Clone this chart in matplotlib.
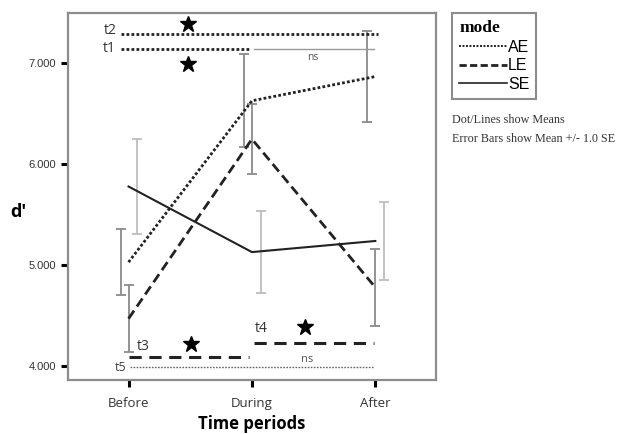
import matplotlib
matplotlib.use("Agg")
import matplotlib.pyplot as plt
from matplotlib.lines import Line2D

periods = ['Before', 'During', 'After']
ae_mean = [5.03, 6.63, 6.87]
le_mean = [4.47, 6.25, 4.78]
se_mean = [5.78, 5.13, 5.24]
ae_err = [0.33, 0.46, 0.45]
le_err = [0.33, 0.35, 0.38]
se_err = [0.47, 0.41, 0.39]
yticks = [4.0, 5.0, 6.0, 7.0]
ytick_labels = ['4.000', '5.000', '6.000', '7.000']

fig = plt.figure(figsize=(6.19, 4.34), dpi=100)
ax = fig.add_axes([0.110, 0.124, 0.594, 0.846])
x = [0, 1, 2]

AE_LS = (0, (1, 0.8))
LE_LS = (0, (3.5, 1.8))

ax.plot(x, ae_mean, color='#222222', lw=2.0, linestyle=AE_LS, zorder=3)
ax.plot(x, le_mean, color='#222222', lw=2.0, linestyle=LE_LS, zorder=3)
ax.plot(x, se_mean, color='#222222', lw=1.5, linestyle='-', zorder=3)

offs = [-0.065, 0.0, 0.07]
for m, e, off, col in [(ae_mean, ae_err, offs[0], '#8a8a8a'),
                       (le_mean, le_err, offs[1], '#8a8a8a'),
                       (se_mean, se_err, offs[2], '#bdbdbd')]:
    ax.errorbar([xi + off for xi in x], m, yerr=e, fmt='none', ecolor=col,
                elinewidth=1.3, capsize=3.5, capthick=1.3, zorder=2)

# significance annotations
STAR = 12
ax.plot([-0.06, 2.02], [7.29, 7.29], color='#222222', lw=2.0, linestyle=AE_LS)
ax.text(-0.1, 7.33, 't2', ha='right', va='center', fontsize=10, family='Open Sans', color='#333333')
ax.plot(0.48, 7.39, marker='*', ms=STAR, color='black')

ax.plot([-0.06, 0.98], [7.14, 7.14], color='#222222', lw=2.0, linestyle=AE_LS)
ax.plot([1.02, 1.99], [7.14, 7.14], color='#999999', lw=1.0)
ax.text(-0.1, 7.15, 't1', ha='right', va='center', fontsize=10, family='Open Sans', color='#333333')
ax.text(1.49, 7.06, 'ns', ha='center', va='center', fontsize=7.5, family='Open Sans', color='#555555')
ax.plot(0.48, 6.99, marker='*', ms=STAR, color='black')

ax.plot([0.0, 0.98], [4.09, 4.09], color='#222222', lw=2.2, linestyle=(0, (4, 2.5)))
ax.text(0.07, 4.19, 't3', ha='left', va='center', fontsize=10, family='Open Sans', color='#333333')
ax.plot(0.51, 4.22, marker='*', ms=STAR, color='black')

ax.plot([1.02, 1.99], [4.23, 4.23], color='#222222', lw=2.2, linestyle=(0, (4, 2.5)))
ax.text(1.02, 4.37, 't4', ha='left', va='center', fontsize=10, family='Open Sans', color='#333333')
ax.plot(1.43, 4.39, marker='*', ms=STAR, color='black')

ax.plot([0.01, 1.99], [3.99, 3.99], color='#666666', lw=1.0, linestyle=(0, (1.2, 1)))
ax.text(-0.02, 3.99, 't5', ha='right', va='center', fontsize=9, family='Open Sans', color='#444444')
ax.text(1.45, 4.07, 'ns', ha='center', va='center', fontsize=8, family='Open Sans', color='#555555')

ax.set_xlim(-0.49, 2.49)
ax.set_ylim(3.86, 7.5)
ax.set_xticks(x)
ax.set_xticklabels(periods, fontsize=9.5, family='Open Sans', color='#333333')
ax.set_yticks(yticks)
ax.set_yticklabels(ytick_labels, fontsize=8, family='Liberation Sans', color='#333333')
ax.tick_params(axis='both', direction='out', length=5, width=2.2, color='black')
ax.tick_params(axis='x', pad=7)
for s in ax.spines.values():
    s.set_color('#8c8c8c')
    s.set_linewidth(1.6)

ax.set_xlabel('Time periods', fontsize=12, fontweight='bold', family='Open Sans', labelpad=4)
fig.text(18 / 619, 1 - 212 / 434, "d'", fontsize=13, fontweight='bold', family='Open Sans',
         ha='center', va='center')

handles = [Line2D([], [], color='#222222', lw=1.4, linestyle=(0, (1, 0.8))),
           Line2D([], [], color='#222222', lw=2.0, linestyle=(0, (2.6, 1.2))),
           Line2D([], [], color='#222222', lw=1.2, linestyle='-')]
leg = fig.legend(handles, ['AE', 'LE', 'SE'], title='mode', loc='upper left',
                 bbox_to_anchor=(452 / 619, 1 - 13 / 434), fancybox=False,
                 edgecolor='#8c8c8c', framealpha=1, handlelength=3.0, handletextpad=0.05,
                 borderpad=0.45, borderaxespad=0, labelspacing=0.22,
                 prop={'family': 'Liberation Sans', 'size': 11.5},
                 title_fontproperties={'family': 'Liberation Serif', 'weight': 'bold', 'size': 12.5})
leg._legend_box.align = 'left'
leg.get_frame().set_linewidth(1.5)

fig.text(452 / 619, 1 - 120 / 434, 'Dot/Lines show Means', fontsize=8.7,
         family='Liberation Serif', color='#333333', va='center')
fig.text(452 / 619, 1 - 139 / 434, 'Error Bars show Mean +/- 1.0 SE', fontsize=8.7,
         family='Liberation Serif', color='#333333', va='center')

fig.savefig('out.png', dpi=100)
